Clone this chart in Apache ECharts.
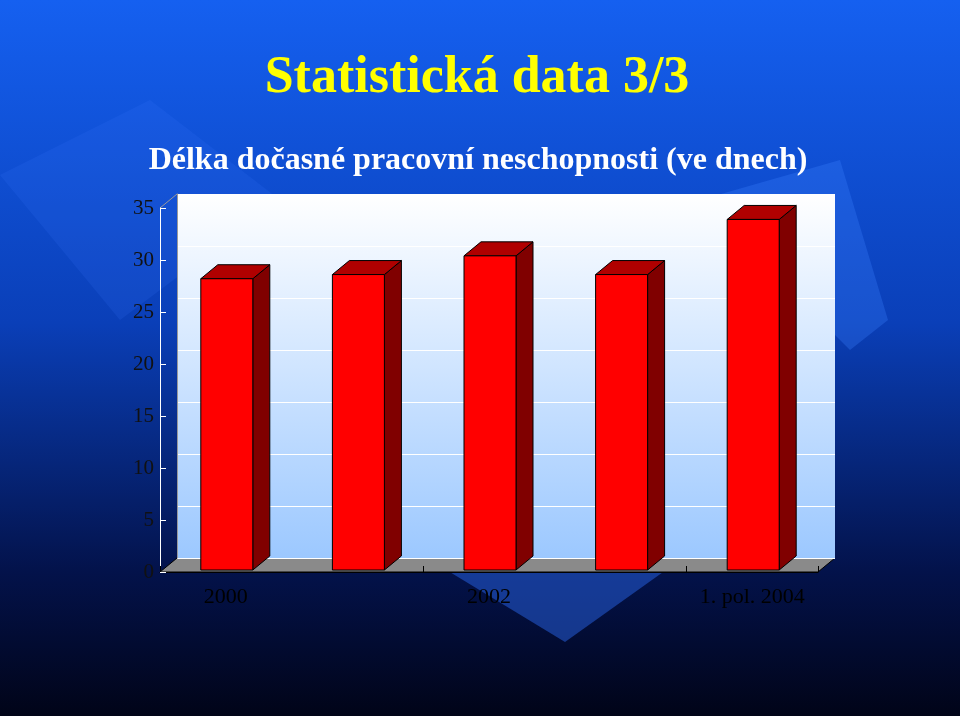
<!DOCTYPE html>
<html><head><meta charset="utf-8">
<script src="https://cdn.jsdelivr.net/npm/echarts@6/dist/echarts.min.js"></script>
<style>html,body{margin:0;padding:0;background:#000}#c{width:960px;height:716px}</style>
</head><body><div id="c"></div>
<script>
const categories = ['2000','2001','2002','2003','1. pol. 2004'];
const values = [28.2, 28.6, 30.4, 28.6, 33.9];
const yTicks = [0,5,10,15,20,25,30,35];

const chart = echarts.init(document.getElementById('c'));
const DX = 17, DY = -14;
chart.setOption({
  backgroundColor: {type:'linear',x:0,y:0,x2:0,y2:1,colorStops:[{offset:0,color:'#1560f0'},{offset:0.45,color:'#0a3fb8'},{offset:0.8,color:'#03124a'},{offset:1,color:'#010418'}]},
  title: [
    {text:'Statistická data 3/3', left:472, textAlign:'center', top:48, textStyle:{fontFamily:'Liberation Serif', fontSize:52, fontWeight:'bold', color:'#ffff00', textShadowColor:'#000', textShadowOffsetX:3, textShadowOffsetY:3, textShadowBlur:0}},
    {text:'Délka dočasné pracovní neschopnosti (ve dnech)', left:473, textAlign:'center', top:140, textStyle:{fontFamily:'Liberation Serif', fontSize:32, fontWeight:'bold', color:'#ffffff', textShadowColor:'#000', textShadowOffsetX:2, textShadowOffsetY:2, textShadowBlur:0}}
  ],
  graphic: [
    {type:'polygon', z:-10, shape:{points:[[0,175],[150,100],[280,200],[120,320]]}, style:{fill:'rgba(60,120,255,0.15)'}},
    {type:'polygon', z:-10, shape:{points:[[700,200],[840,160],[888,320],[850,350]]}, style:{fill:'rgba(60,130,255,0.3)'}},
    {type:'polygon', z:-10, shape:{points:[[430,560],[680,560],[565,642]]}, style:{fill:'rgba(40,100,230,0.5)'}},
    {type:'polygon', z:-1, shape:{points:[[160,572],[177,558],[835,558],[818,572]]}, style:{fill:'#8a8a8a', stroke:'#000', lineWidth:1}},
    {type:'polyline', z:-1, shape:{points:[[160,208],[177,194]]}, style:{stroke:'#999', lineWidth:1}}
  ],
  grid: [
    {left:160, top:208, width:658, height:364},
    {left:177, top:194, width:658, height:364, show:true, borderWidth:0,
     backgroundColor:{type:'linear',x:0,y:0,x2:0,y2:1,colorStops:[{offset:0,color:'#ffffff'},{offset:1,color:'#9cc8ff'}]}}
  ],
  xAxis: [
    {type:'category', gridIndex:0, data:categories, axisLine:{lineStyle:{color:'#000'}}, axisTick:{show:true, length:-6, lineStyle:{color:'#000'}},
     axisLabel:{color:'#000', fontFamily:'Liberation Serif', fontSize:22, margin:14}},
    {type:'category', gridIndex:1, data:categories, show:false}
  ],
  yAxis: [
    {type:'value', gridIndex:0, min:0, max:35, interval:5, splitLine:{show:false},
     axisLine:{show:true, lineStyle:{color:'#fff'}}, axisTick:{show:true, length:-6, lineStyle:{color:'#fff'}},
     axisLabel:{color:'#111', fontFamily:'Liberation Serif', fontSize:21, margin:6}},
    {type:'value', gridIndex:1, min:0, max:35, interval:5, axisLabel:{show:false}, axisLine:{show:true, lineStyle:{color:'#999'}}, axisTick:{show:false},
     splitLine:{show:true, lineStyle:{color:'#ffffff', width:1}}}
  ],
  series: [{
    type:'custom', xAxisIndex:0, yAxisIndex:0, data: values.map((v,i)=>[i,v]),
    renderItem: function(params, api){
      const top = api.coord([api.value(0), api.value(1)]);
      const bot = api.coord([api.value(0), 0]);
      const w = 52, x0 = top[0]-w/2+1, x1 = x0+w, y0 = top[1], y1 = bot[1]-2;
      return {type:'group', children:[
        {type:'polygon', shape:{points:[[x1,y0],[x1+DX,y0+DY],[x1+DX,y1+DY],[x1,y1]]}, style:{fill:'#800000', stroke:'#000', lineWidth:1}},
        {type:'polygon', shape:{points:[[x0,y0],[x0+DX,y0+DY],[x1+DX,y0+DY],[x1,y0]]}, style:{fill:'#b00000', stroke:'#000', lineWidth:1}},
        {type:'rect', shape:{x:x0, y:y0, width:w, height:y1-y0}, style:{fill:'#ff0000', stroke:'#000', lineWidth:1}}
      ]};
    }
  }]
});
</script></body></html>
